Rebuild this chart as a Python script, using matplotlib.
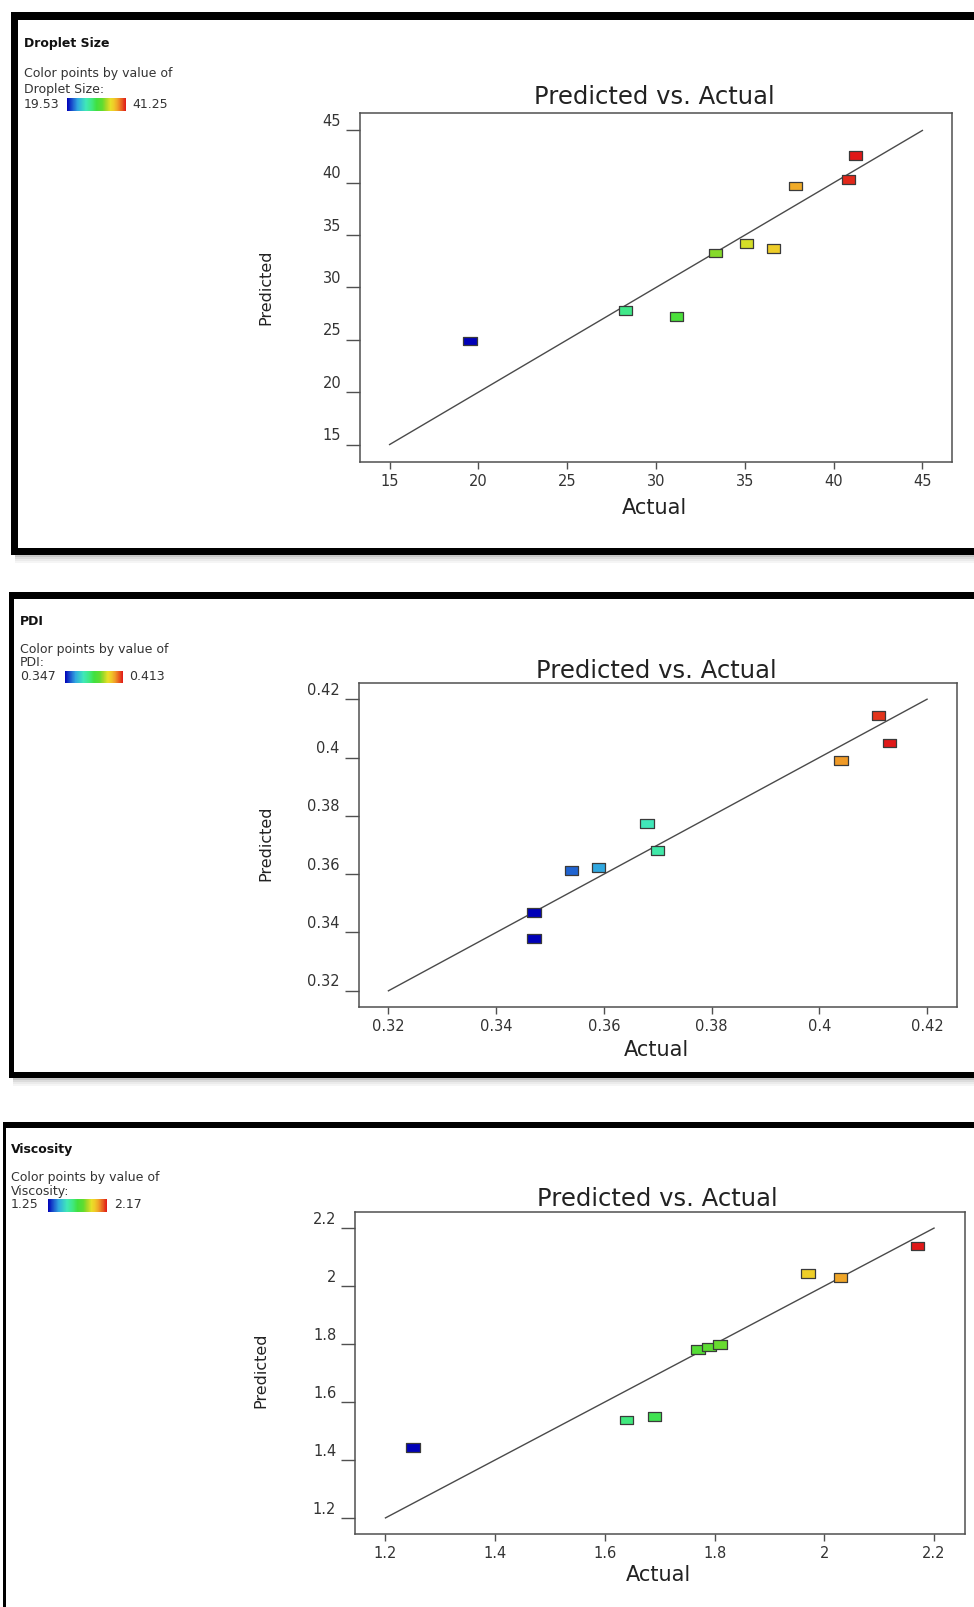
import numpy as np
import matplotlib
matplotlib.use("Agg")
import matplotlib.pyplot as plt
from matplotlib.colors import LinearSegmentedColormap
from matplotlib.patches import Rectangle
from matplotlib.transforms import ScaledTranslation

plt.rcParams['font.family'] = ['DejaVu Sans']

# ---------------- data ----------------
droplet_actual = [19.53, 28.30, 31.15, 33.35, 35.10, 36.60, 37.85, 40.85, 41.25]
droplet_pred = [24.90, 27.80, 27.20, 33.30, 34.20, 33.75, 39.70, 40.30, 42.60]
droplet_range = (19.53, 41.25)
droplet_ticks = [15, 20, 25, 30, 35, 40, 45]
droplet_ticklabels = ["15", "20", "25", "30", "35", "40", "45"]

pdi_actual = [0.347, 0.347, 0.354, 0.359, 0.368, 0.370, 0.404, 0.411, 0.413]
pdi_pred = [0.3469, 0.3380, 0.3613, 0.3624, 0.3775, 0.3680, 0.3990, 0.4145, 0.4050]
pdi_range = (0.347, 0.413)
pdi_ticks = [0.32, 0.34, 0.36, 0.38, 0.40, 0.42]
pdi_ticklabels = ["0.32", "0.34", "0.36", "0.38", "0.4", "0.42"]

visc_actual = [1.25, 1.64, 1.69, 1.77, 1.79, 1.81, 1.97, 2.03, 2.17]
visc_pred = [1.442, 1.538, 1.550, 1.782, 1.790, 1.798, 2.042, 2.030, 2.138]
visc_range = (1.25, 2.17)
visc_ticks = [1.2, 1.4, 1.6, 1.8, 2.0, 2.2]
visc_ticklabels = ["1.2", "1.4", "1.6", "1.8", "2", "2.2"]

response_names = ["Droplet Size", "PDI", "Viscosity"]
range_labels = [("19.53", "41.25"), ("0.347", "0.413"), ("1.25", "2.17")]

# ---------------- style ----------------
cmap = LinearSegmentedColormap.from_list("de", [
    (0.00, "#0000b8"), (0.10, "#1f5fd0"), (0.18, "#30a8e0"), (0.32, "#40e8b8"),
    (0.42, "#40e880"), (0.50, "#40e040"), (0.60, "#60dc30"), (0.66, "#a0d828"),
    (0.74, "#e8e028"), (0.80, "#f0c828"), (0.86, "#f0a028"), (0.93, "#e86020"),
    (1.00, "#e01818")])

W, H, DPI = 974, 1607, 100
fig = plt.figure(figsize=(W / DPI, H / DPI), dpi=DPI)
fig.patch.set_facecolor("white")


def fx(x):
    return x / W


def fy(y):
    return 1 - y / H


def axes_px(l, t, r, b):
    return fig.add_axes([fx(l), fy(b), (r - l) / W, (b - t) / H])


def rect_px(l, t, r, b, color="black", alpha=1.0):
    fig.add_artist(Rectangle((fx(l), fy(b)), (r - l) / W, (b - t) / H,
                             transform=fig.transFigure, facecolor=color,
                             edgecolor="none", alpha=alpha, zorder=0))


def text_px(x, y, s, **kw):
    fig.text(fx(x), fy(y), s, **kw)


# layout of each panel (pixel coordinates)
layouts = [
    dict(frame_top=(12, 20), frame_left=(11, 18), frame_bottom=(548, 555),
         lx=24, ly=(43.5, 74, 89, 104), bar=(67, 98, 126, 111), hi_x=132,
         title=(654, 97), box=(360, 113, 952, 462), xlab=(654, 508), ylab=(266, 287)),
    dict(frame_top=(592, 599), frame_left=(9, 14), frame_bottom=(1072, 1078),
         lx=20, ly=(621, 649, 663, 677), bar=(65, 671, 123, 683), hi_x=129,
         title=(656, 671), box=(358.5, 683, 957, 1007), xlab=(656, 1050), ylab=(266, 843)),
    dict(frame_top=(1122, 1128), frame_left=(3, 6), frame_bottom=None,
         lx=11, ly=(1149, 1178, 1192, 1205), bar=(48, 1199, 107, 1212), hi_x=114,
         title=(657, 1199), box=(355, 1212, 964.5, 1534), xlab=(658, 1575), ylab=(261, 1370)),
]

datasets = [
    (droplet_actual, droplet_pred, droplet_range, droplet_ticks, droplet_ticklabels),
    (pdi_actual, pdi_pred, pdi_range, pdi_ticks, pdi_ticklabels),
    (visc_actual, visc_pred, visc_range, visc_ticks, visc_ticklabels),
]

marker_verts = [(-1, -0.66), (1, -0.66), (1, 0.66), (-1, 0.66), (-1, -0.66)]
txt_col = "#333333"
axis_col = "#505050"

for lay, (act, pred, vrange, ticks, tlabels), name, (lo_lab, hi_lab) in zip(
        layouts, datasets, response_names, range_labels):
    # outer black frame
    t0, t1 = lay["frame_top"]
    l0, l1 = lay["frame_left"]
    bottom = lay["frame_bottom"][1] if lay["frame_bottom"] else H + 5
    rect_px(l0, t0, W + 10, t1)
    rect_px(l0, t0, l1, bottom)
    if lay["frame_bottom"]:
        b0, b1 = lay["frame_bottom"]
        rect_px(l0, b0, W + 10, b1)
        for k, a in enumerate([0.35, 0.22, 0.12, 0.06]):
            rect_px(l0 + 4, b1 + k * 2, W + 10, b1 + k * 2 + 2, color="#606060", alpha=a)

    # legend text
    lx = lay["lx"]
    ly = lay["ly"]
    text_px(lx, ly[0], name, fontsize=9, fontweight="bold", color="#111111", va="center")
    text_px(lx, ly[1], "Color points by value of", fontsize=9, color=txt_col, va="center")
    text_px(lx, ly[2], name + ":", fontsize=9, color=txt_col, va="center")
    text_px(lx, ly[3], lo_lab, fontsize=9, color=txt_col, va="center")
    text_px(lay["hi_x"], ly[3], hi_lab, fontsize=9, color=txt_col, va="center")

    # main axes
    ax = axes_px(*lay["box"])
    span = ticks[-1] - ticks[0]
    pad = span / 18.0
    ax.set_xlim(ticks[0] - pad, ticks[-1] + pad)
    ax.set_ylim(ticks[0] - pad, ticks[-1] + pad)
    ax.plot([ticks[0], ticks[-1]], [ticks[0], ticks[-1]], color="#4a4a4a", lw=1.0, zorder=2)
    sc = ax.scatter(act, pred, c=act, cmap=cmap, vmin=vrange[0], vmax=vrange[1],
                    marker=marker_verts, s=92, edgecolors="#3a3a3a", linewidths=0.9, zorder=3)
    ax.set_xticks(ticks, tlabels)
    ax.set_yticks(ticks, tlabels)
    for sp in ax.spines.values():
        sp.set_color(axis_col)
        sp.set_linewidth(1.1)
    ax.tick_params(axis="x", length=5, width=1, pad=3.5, labelsize=10.5,
                   color=axis_col, labelcolor=txt_col)
    ax.tick_params(axis="y", length=10, width=1, pad=3.5, labelsize=10.5,
                   color=axis_col, labelcolor=txt_col)
    for lab in ax.get_yticklabels():
        lab.set_verticalalignment("bottom")
        lab.set_transform(lab.get_transform() + ScaledTranslation(0, 1 / 72, fig.dpi_scale_trans))

    # titles / axis labels
    text_px(*lay["title"], "Predicted vs. Actual", fontsize=17.5, color="#222222",
            ha="center", va="center")
    text_px(*lay["xlab"], "Actual", fontsize=15, color="#222222", ha="center", va="center")
    text_px(*lay["ylab"], "Predicted", fontsize=11.5, color="#222222", ha="center",
            va="center", rotation=90)

    # colour legend bar
    cax = axes_px(*lay["bar"])
    cb = fig.colorbar(sc, cax=cax, orientation="horizontal")
    cb.outline.set_visible(False)
    cax.set_xticks([])
    cax.set_yticks([])

fig.savefig("out.png", dpi=DPI, facecolor="white")
